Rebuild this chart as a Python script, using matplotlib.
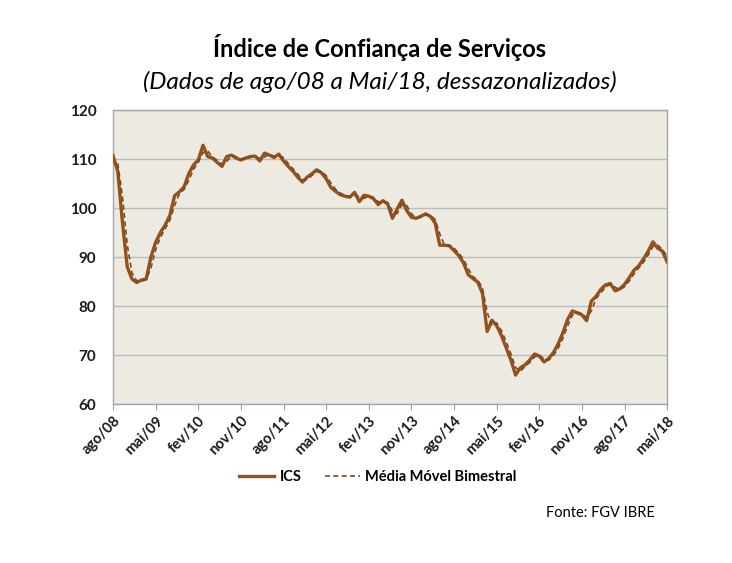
import pandas as pd
import matplotlib.pyplot as plt

plt.rcParams['font.family'] = ['Lato', 'DejaVu Sans']

# Monthly ICS values, ago/08 .. mai/18
ics = [110.7, 107.5, 97.0, 88.0, 85.5, 84.8, 85.3, 85.5, 90.0, 93.0,
       95.0, 96.5, 98.5, 102.5, 103.3, 104.3, 107.0, 108.8, 109.8, 112.8,
       110.5, 110.2, 109.3, 108.5, 110.5, 110.8, 110.2, 109.8, 110.2, 110.5,
       110.6, 109.6, 111.2, 110.8, 110.3, 111.0, 109.6, 108.5, 107.5, 106.3,
       105.3, 106.3, 107.0, 107.8, 107.2, 106.0, 104.2, 103.4, 102.7, 102.4,
       102.2, 103.2, 101.3, 102.6, 102.4, 101.9, 100.7, 101.5, 100.8, 97.9,
       99.8, 101.6, 99.5, 98.1, 97.9, 98.3, 98.8, 98.3, 97.0, 92.4,
       92.4, 92.3, 91.3, 90.3, 88.8, 86.4, 85.6, 84.9, 82.6, 74.8,
       77.1, 76.0, 74.0, 71.5, 69.0, 65.9, 67.4, 68.0, 69.0, 70.2,
       69.8, 68.6, 69.3, 70.5, 72.3, 74.6, 77.3, 79.0, 78.6, 78.2,
       77.0, 81.0, 82.0, 83.4, 84.3, 84.6, 83.1, 83.5, 84.4, 85.8,
       87.3, 88.2, 89.6, 91.2, 93.1, 91.8, 91.2, 89.0]

tick_labels = ['ago/08', 'mai/09', 'fev/10', 'nov/10', 'ago/11', 'mai/12', 'fev/13',
               'nov/13', 'ago/14', 'mai/15', 'fev/16', 'nov/16', 'ago/17', 'mai/18']

s = pd.Series(ics)
media = s.rolling(2).mean()   # média móvel bimestral

brown = '#93521C'

fig = plt.figure(figsize=(7.32, 5.63), dpi=100)
ax = fig.add_axes([0.1544, 0.2824, 0.757, 0.5222])
ax.set_facecolor('#EDEAE1')

ax.plot(s.index, s.values, color=brown, lw=2.4, label='ICS', solid_joinstyle='round', zorder=3)
ax.plot(media.index, media.values, color='#7A4A22', lw=1.2, ls=(0, (3, 2)),
        label='Média Móvel Bimestral', zorder=4)

ax.set_xlim(0, len(ics) - 1)
ax.set_ylim(60, 120)
ax.set_yticks(range(60, 121, 10))
ax.yaxis.grid(True, color='#BDBDBD', lw=1)
ax.set_axisbelow(True)

ax.set_xticks(range(0, len(ics), 9))
ax.set_xticklabels(tick_labels, rotation=45, ha='right', rotation_mode='anchor')
ax.tick_params(axis='x', length=4, color='#A0A0A0', labelsize=10.5, pad=3)
ax.tick_params(axis='y', length=0, labelsize=11, pad=12)
for lab in ax.get_xticklabels() + ax.get_yticklabels():
    lab.set_fontweight('bold')
    lab.set_color('#1A1A1A')

for sp in ax.spines.values():
    sp.set_color('#A6A6A6')
    sp.set_linewidth(1)

fig.text(0.519, 0.915, 'Índice de Confiança de Serviços', ha='center', va='center',
         fontsize=17, fontweight='bold')
fig.text(0.519, 0.855, '(Dados de ago/08 a Mai/18, dessazonalizados)', ha='center',
         va='center', fontsize=17.5, style='italic')

leg = fig.legend(loc='center', bbox_to_anchor=(0.516, 0.152), ncol=2, frameon=False,
                 fontsize=10.5, handlelength=2.4, handletextpad=0.4, columnspacing=1.6)
for t in leg.get_texts():
    t.set_fontweight('bold')

fig.text(0.895, 0.088, 'Fonte: FGV IBRE', ha='right', va='center', fontsize=10.5)

fig.savefig('out.png', dpi=100, facecolor='white')
